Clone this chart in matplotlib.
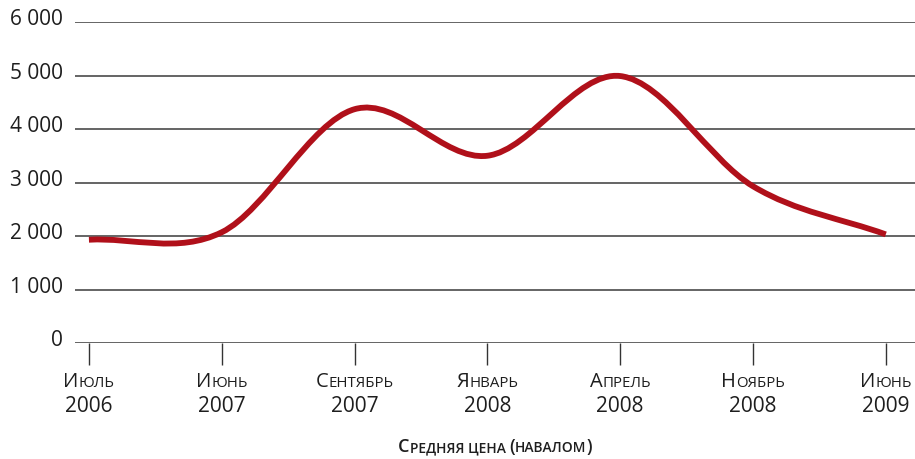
import numpy as np
import matplotlib
matplotlib.use("Agg")
import matplotlib.pyplot as plt
import matplotlib.transforms as mtransforms
from matplotlib.path import Path
from matplotlib.patches import PathPatch
from matplotlib.offsetbox import TextArea, HPacker, VPacker, AnnotationBbox

# data
months = ["Июль", "Июнь", "Сентябрь", "Январь", "Апрель", "Ноябрь", "Июнь"]
years = ["2006", "2007", "2007", "2008", "2008", "2008", "2009"]
price = [1930, 2070, 4370, 3500, 4990, 2930, 2030]
y_ticks = [0, 1000, 2000, 3000, 4000, 5000, 6000]
x_title = "Средняя цена (навалом)"

FONT = "Open Sans"
RED = "#b0101a"
GRID = "#3a3a3a"
INK = "#1e1e1e"


def smooth_path(xs, ys):
    """Catmull-Rom curve through the points, as cubic Bezier segments."""
    xs = np.asarray(xs, float)
    ys = np.asarray(ys, float)
    n = len(ys)
    m = np.empty(n)
    m[1:-1] = (ys[2:] - ys[:-2]) / 2
    m[0] = ys[1] - ys[0]
    m[-1] = ys[-1] - ys[-2]
    verts = [(xs[0], ys[0])]
    codes = [Path.MOVETO]
    for i in range(n - 1):
        dx = xs[i + 1] - xs[i]
        verts += [(xs[i] + dx / 3, ys[i] + m[i] / 3),
                  (xs[i + 1] - dx / 3, ys[i + 1] - m[i + 1] / 3),
                  (xs[i + 1], ys[i + 1])]
        codes += [Path.CURVE4] * 3
    return Path(verts, codes)


def small_caps(text, big, small, weight="normal"):
    """Fake small caps: capitals and brackets full size, the rest as small capitals."""
    boxes = []
    run = ""
    run_big = None
    for ch in text:
        is_big = ch.isupper() or ch in "()"
        if run and is_big != run_big:
            boxes.append((run, run_big))
            run = ""
        run += ch
        run_big = is_big
    if run:
        boxes.append((run, run_big))
    areas = [TextArea(s.upper(), textprops=dict(family=FONT, size=big if b else small,
                                                color=INK, weight=weight))
             for s, b in boxes]
    return HPacker(children=areas, align="baseline", pad=0, sep=0)


fig = plt.figure(figsize=(9.15, 4.6), dpi=100)
ax = fig.add_axes([75 / 915, 116 / 460, 840 / 915, 321 / 460])

x = np.arange(len(price))
ax.add_patch(PathPatch(smooth_path(x, price), fill=False, edgecolor=RED,
                       lw=4.2, capstyle="butt", zorder=3))

ax.set_xlim(-0.105, 6.22)
ax.set_ylim(0, 6000)

ax.set_yticks(y_ticks)
ax.set_yticklabels([f"{v:,}".replace(",", " ") for v in y_ticks],
                   family=FONT, fontsize=15, color=INK)
ax.tick_params(axis="y", length=0, pad=8.5)
ax.grid(axis="y", color=GRID, lw=1.1)
ax.get_ygridlines()[0].set_color("#555555")
ax.get_ygridlines()[0].set_linewidth(2)
lift = mtransforms.ScaledTranslation(0, 4 / 72, fig.dpi_scale_trans)
for lbl in ax.get_yticklabels():
    lbl.set_transform(lbl.get_transform() + lift)

ax.set_xticks(x)
ax.set_xticklabels([])
ax.tick_params(axis="x", length=16, width=1, color="#333333", direction="out")

for sp in ax.spines.values():
    sp.set_visible(False)
ax.set_axisbelow(True)

for xi, mon, yr in zip(x, months, years):
    top = small_caps(mon, 14.5, 10.8)
    bottom = TextArea(yr, textprops=dict(family=FONT, size=15, color=INK))
    box = VPacker(children=[top, bottom], align="center", pad=0, sep=3)
    ab = AnnotationBbox(box, (xi, 0), xycoords="data", xybox=(0, -20),
                        boxcoords="offset points", box_alignment=(0.5, 1),
                        frameon=False, pad=0)
    ax.add_artist(ab)

title_box = small_caps(x_title, 13, 10, weight="semibold")
fig.add_artist(AnnotationBbox(title_box, (495 / 915, 13 / 460),
                              xycoords="figure fraction", box_alignment=(0.5, 0.5),
                              frameon=False, pad=0))

fig.savefig("out.png", dpi=100)
